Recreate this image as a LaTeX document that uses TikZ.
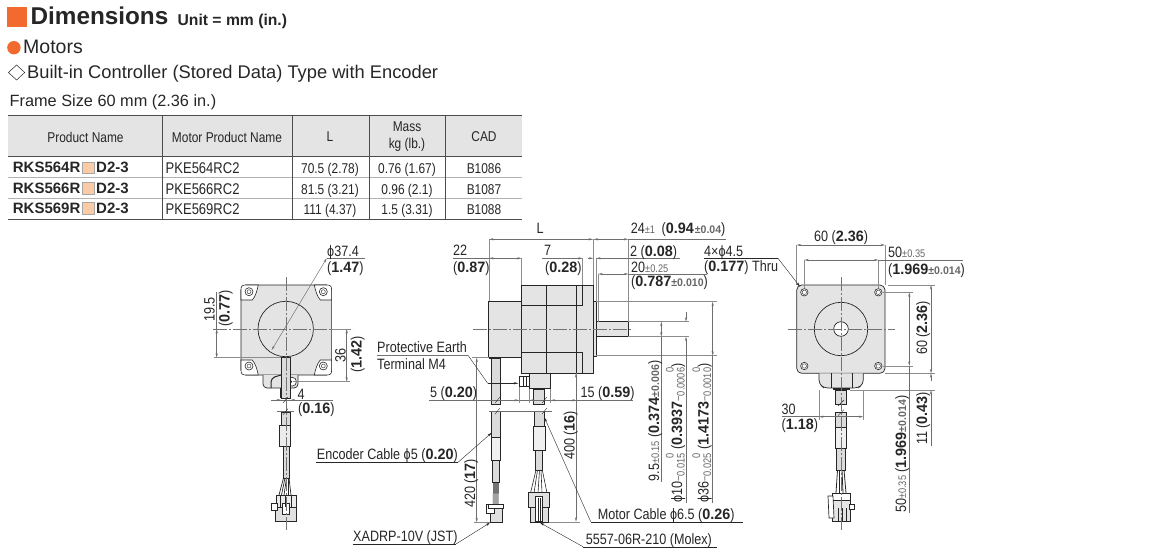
\documentclass[tikz,border=0pt]{standalone}
\usepackage{fontspec}
\usetikzlibrary{arrows.meta,shapes.geometric}
\setmainfont{Liberation Sans}
\newfontfamily\dimfont[FakeStretch=0.84]{Liberation Sans}
\newfontfamily\dimbold[FakeStretch=0.96]{Liberation Sans Bold}
\newfontfamily\rowbold{Liberation Sans Bold}
\definecolor{orangemark}{HTML}{F26A2E}
\definecolor{peach}{HTML}{FBCBA8}
\definecolor{bodygray}{HTML}{E4E4E4}
\definecolor{dimcol}{HTML}{6E6E6E}
\definecolor{tolgray}{HTML}{666666}
\definecolor{inkcol}{HTML}{262626}
\newcommand{\bd}[1]{{\dimbold #1}}
\newcommand{\tol}[1]{{\fontsize{11}{11}\selectfont\color{tolgray}#1}}
\newcommand{\tolb}[1]{{\fontsize{11}{11}\selectfont\color{tolgray}\dimbold #1}}
\newcommand{\tolpair}[1]{\raisebox{-2.5pt}{\fontsize{11}{9}\selectfont\color{tolgray}\shortstack[r]{0\\#1}}}
\tikzset{
	>={Stealth[length=4.5pt,width=2.2pt]},
	txt/.style={anchor=base west,inner sep=0pt,text=inkcol,font=\dimfont\fontsize{15}{15}\selectfont},
	vtxt/.style={txt,rotate=90},
	cell/.style={anchor=center,inner sep=0pt,text=inkcol,font=\dimfont\fontsize{14.2}{17}\selectfont,align=center},
	rowcell/.style={anchor=base,inner sep=0pt,text=inkcol,font=\dimfont\fontsize{14.2}{15}\selectfont},
	rowname/.style={anchor=base west,inner sep=0pt,text=inkcol,font=\rowbold\fontsize{15}{15}\selectfont},
	dimline/.style={draw=dimcol,line width=.45pt},
	extline/.style={draw=black!45,line width=.5pt},
	center line/.style={draw=black!55,line width=.4pt,dash pattern=on 14pt off 2pt on 2pt off 2pt},
	part/.style={draw=inkcol,fill=bodygray,line width=.7pt},
	cablepart/.style={draw=inkcol,fill=black!14,line width=.5pt},
	leader/.style={draw=inkcol,line width=.4pt}
}
\begin{document}
\begin{tikzpicture}[x=1pt,y=-1pt]
	\useasboundingbox (0,0) rectangle (1150,556);
	% heading
	\fill[orangemark] (7,7) rectangle (26.7,27);
	\node (dimtitle) [anchor=base west,inner sep=0pt,text=inkcol,font=\bfseries\fontsize{24.3}{24}\selectfont] at (30.4,25) {Dimensions};
	\node (unit) [anchor=base west,inner sep=0pt,text=inkcol,font=\bfseries\fontsize{15.7}{16}\selectfont] at (177.4,26) {Unit = mm (in.)};
	\fill[orangemark] (13.9,47.7) circle (6.7);
	\node (motors) [anchor=base west,inner sep=0pt,text=inkcol,font=\fontsize{19.5}{19}\selectfont] at (23,53.5) {Motors};
	\draw[inkcol,line width=.5pt] (8.4,72.5) -- (16.6,65) -- (24.7,72.5) -- (16.6,80) -- cycle;
	\node (typeline) [anchor=base west,inner sep=0pt,text=inkcol,font=\fontsize{18.3}{18}\selectfont] at (27,78.5) {Built-in Controller (Stored Data) Type with Encoder};
	\node (frame) [anchor=base west,inner sep=0pt,text=inkcol,font=\fontsize{16.3}{16}\selectfont] at (9.5,106.5) {Frame Size 60 mm (2.36 in.)};
	% table
	\fill[bodygray] (8.4,116) rectangle (522,157);
	\draw[black!30,line width=.6pt] (8.4,177.7) -- (522,177.7) (8.4,198) -- (522,198);
	\draw[black!70,line width=1pt] (8.4,116) -- (522,116) (8.4,157) -- (522,157) (8.4,219) -- (522,219);
	\foreach \colx in {162,292,369,445}
		\draw[black!70,line width=.5pt] (\colx,116) -- (\colx,219);
	\node (hproduct) [cell] at (85.5,137) {Product Name};
	\node (hmotor) [cell] at (227,137) {Motor Product Name};
	\node (hl) [cell] at (330,137) {L};
	\node (hmass) [cell] at (407,137) {Mass\\kg (lb.)};
	\node (hcad) [cell] at (484,137) {CAD};
	\foreach \rowy/\kid/\ltxt/\masstxt/\cadtxt in {173.5/4/70.5 (2.78)/0.76 (1.67)/B1086,194/6/81.5 (3.21)/0.96 (2.1)/B1087,214/9/111 (4.37)/1.5 (3.31)/B1088} {
		\node (rks\kid) [rowname] at (12.7,\rowy-.8) {RKS56\kid R};
		\node (box\kid) [draw=black!35,fill=peach,inner sep=0pt,minimum width=12pt,minimum height=11.5pt] at (87.8,\rowy-6) {};
		\node (dtwo\kid) [rowname] at (96,\rowy-.8) {D2-3};
		\node (pke\kid) [rowcell,anchor=base west,font=\dimfont\fontsize{15.5}{15}\selectfont] at (165.5,\rowy) {PKE56\kid RC2};
		\node (len\kid) [rowcell] at (330,\rowy) {\ltxt};
		\node (mass\kid) [rowcell] at (407,\rowy) {\masstxt};
		\node (cad\kid) [rowcell] at (484,\rowy) {\cadtxt};
	}
	% left view
	\draw[part,rounded corners=5pt] (241,285) rectangle (331.6,375);
	\foreach \sx/\sy in {1/1,1/-1,-1/1,-1/-1} {
		\begin{scope}[shift={(286.3,330)},xscale=\sx,yscale=\sy]
			\draw[fill=white,draw=inkcol,line width=.6pt] (45.3,30) -- (34,30) .. controls (31,33) and (29,40) .. (28,45) -- (40.3,45) .. controls (44,45) and (45.3,44) .. (45.3,40.3) -- cycle;
		\end{scope}
	}
	\foreach \hx in {249,323.3}
		\foreach \hy in {291.7,366} {
			\draw[inkcol,fill=white,line width=.6pt] (\hx,\hy) circle (4);
			\draw[inkcol,line width=.4pt] (\hx,\hy) circle (2);
		}
	\draw[inkcol,line width=.7pt] (285.7,329) circle (27.7);
	\draw[part,rounded corners=4pt] (263,375) -- (263,388) -- (298,388) -- (298,375);
	\draw[inkcol,line width=1pt,rounded corners=4pt] (271,388) -- (271,378) -- (281,375);
	\draw[inkcol,fill=white,line width=.6pt] (292,381.7) circle (4.5);
	\fill[inkcol] (291,381.7) circle (1.2);
	\draw[cablepart] (281,357) rectangle (290.7,398);
	\draw[inkcol,line width=1.2pt] (281,388) -- (281,398) (290.7,388) -- (290.7,398);
	\draw[cablepart] (281,412) rectangle (290.7,425);
	\draw[cablepart,fill=black!8] (279,425) rectangle (290.7,446);
	\draw[cablepart] (283,446) rectangle (289.5,478);
	\foreach \wa/\wb in {283.5/279,285/281.5,286.5/284,288/288,289/291}
		\draw[inkcol,line width=.7pt] (\wa,478) -- (\wb,495);
	\draw[part,fill=black!8] (276,495) rectangle (296,508);
	\draw[part,fill=black!12] (275,507) rectangle (296,521);
	\draw[part,fill=white] (271,503) rectangle (277,510);
	\draw[part,fill=white] (282,503) rectangle (289,514);
	\foreach \bx in {280,285,291}
		\draw[inkcol,line width=.5pt] (\bx,496) -- (\bx,507);
	\draw[center line] (285.7,277) -- (285.7,530);
	\draw[center line] (213,329) -- (353,329);
	\draw[dimline,<->] (271.7,350) -- (326.7,258.3);
	\draw[dimline] (326.7,258.3) -- (365,258.3);
	\node (dia1) [txt] at (327,256.5) {ϕ37.4};
	\node (dia1in) [txt] at (327,272) {(\bd{1.47})};
	\draw[extline] (214,357.7) -- (281,357.7);
	\draw[dimline,<->] (216.7,329) -- (216.7,357.7);
	\draw[dimline] (216.7,329) -- (216.7,292);
	\node (h195) [vtxt] at (214.5,322) {19.5};
	\node (h195in) [vtxt] at (229.5,327) {(\bd{0.77})};
	\draw[extline] (331,329) -- (350,329) (293,381.7) -- (350,381.7);
	\draw[dimline,<->] (346.7,329) -- (346.7,381.7);
	\node (h36) [vtxt] at (345.5,362.5) {36};
	\node (h36in) [vtxt] at (361.5,373) {(\bd{1.42})};
	\draw[dimline] (271,400) -- (333,400) (277,411.7) -- (294,411.7);
	\foreach \by in {400,411.7}
		\draw[inkcol,line width=.4pt] (283,\by+3) -- (288,\by-3);
	\draw[dimline,<-] (281,400) -- (272,400);
	\draw[dimline,<-] (290.7,400) -- (300,400);
	\node (w4) [txt] at (297.5,399) {4};
	\node (w4in) [txt] at (298,413.5) {(\bd{0.16})};
	% side view
	\draw[part] (488.3,301) rectangle (521.7,357.7);
	\draw[part] (521.7,285) rectangle (593.3,373.3);
	\draw[inkcol,line width=.7pt] (546.7,285) -- (546.7,373.3) (576.7,285) -- (576.7,373.3);
	\draw[inkcol,line width=.7pt] (582.7,285) -- (582.7,305.7) -- (521.7,305.7);
	\draw[inkcol,line width=.7pt] (582.7,373.3) -- (582.7,352.3) -- (521.7,352.3);
	\draw[part] (593.3,301.7) rectangle (596,356.7);
	\draw[part] (596,321.7) rectangle (628.3,336.7);
	\draw[inkcol,line width=1.2pt] (596,321.7) -- (628.3,321.7);
	\draw[part] (529.3,373.3) rectangle (550.7,388.3);
	\draw[inkcol,line width=1.2pt] (529.8,373.3) -- (529.8,388.3);
	\draw[inkcol,fill=white,line width=.6pt] (519.5,376.7) rectangle (529.3,386.7);
	\draw[inkcol,line width=.6pt] (523,376.7) -- (523,386.7) (526,376.7) -- (526,386.7);
	\draw[inkcol,line width=1.6pt] (533,388.8) -- (545,388.8);
	\draw[cablepart] (533.5,389) rectangle (544,404);
	\draw[inkcol,line width=1.6pt] (489,358) -- (501,358);
	\draw[cablepart] (491.7,358) rectangle (500,404);
	\draw[cablepart] (491.7,411) rectangle (500,437);
	\draw[cablepart,fill=black!6] (491,437) rectangle (500.7,460);
	\draw[cablepart] (492.7,460) rectangle (499.3,482);
	\foreach \wx in {493.5,494.5,495.5,496.5,497.5,498.5}
		\draw[inkcol,line width=.5pt] (\wx,482) -- (\wx-.5,504);
	\draw[part,fill=black!12] (490,508) rectangle (502.7,522.7);
	\draw[part,fill=white] (486.7,504) rectangle (494,513);
	\draw[part,fill=white] (488,504) rectangle (503.3,508.3);
	\draw[cablepart] (534,411) rectangle (544,426);
	\draw[cablepart,fill=black!6] (533.3,426) rectangle (545,450);
	\draw[cablepart] (535.5,450) rectangle (542.7,470);
	\foreach \wa/\wb in {536/530.5,537.5/534,539.5/538,541/542,542.3/547}
		\draw[inkcol,line width=.6pt] (\wa,470) -- (\wb,493);
	\draw[part,fill=black!12] (528.7,492.7) rectangle (549.3,507);
	\draw[part,fill=black!12] (530,507) rectangle (548,522.7);
	\draw[part,fill=white] (535.7,496.7) rectangle (542.3,521.7);
	\draw[inkcol,line width=.8pt] (538,498) -- (538,521) (540,498) -- (540,521);
	\draw[center line] (473,329.3) -- (633,329.3);
	% side view, top dimensions
	\draw[extline,line width=.8pt] (489,239.3) -- (489,301);
	\draw[extline] (521.7,258.3) -- (521.7,285) (582.7,258.3) -- (582.7,285) (593.3,239.3) -- (593.3,285) (596,258.3) -- (596,301) (598.3,274) -- (598.3,321.7) (628.3,239.3) -- (628.3,321.7);
	\draw[dimline,<->] (489,239.3) -- (593.1,239.3);
	\draw[dimline,<->] (593.5,239.3) -- (628.3,239.3);
	\draw[dimline] (628.3,239.3) -- (726,239.3);
	\node (lenl) [txt] at (536.5,233) {L};
	\node (len24) [txt] at (630.7,233) {24\tol{ ±1}\hspace{3pt} (\bd{0.94}\hspace{1pt}\tolb{±0.04})};
	\draw[dimline] (452.7,258.3) -- (489,258.3);
	\draw[dimline,<->] (489,258.3) -- (521.7,258.3);
	\draw[dimline,->] (541.7,258.3) -- (582.7,258.3);
	\draw[dimline,->] (604,258.3) -- (596,258.3);
	\draw[dimline,<-] (593.3,258.3) -- (588,258.3);
	\draw[dimline] (604,258.3) -- (680,258.3);
	\node (len22) [txt] at (453,255) {22};
	\node (len22in) [txt] at (453,272) {(\bd{0.87})};
	\node (len7) [txt] at (544,255) {7};
	\node (len7in) [txt] at (545,272) {(\bd{0.28})};
	\node (len2) [txt] at (630,256.5) {2 (\bd{0.08})};
	\draw[dimline,<->] (598.3,274) -- (628.3,274);
	\draw[dimline] (628.3,274) -- (706.7,274);
	\node (len20) [txt] at (631,272) {20\tol{ ±0.25}};
	\node (len20in) [txt] at (631,286.7) {(\bd{0.787}\tolb{±0.010})};
	% side view, shaft dimensions
	\draw[extline] (596,301.7) -- (716.7,301.7) (596,355.7) -- (716.7,355.7) (628.3,321.7) -- (689.3,321.7) (628.3,336.7) -- (689.3,336.7);
	\draw[dimline,<->] (712.7,301.7) -- (712.7,355.7);
	\draw[dimline] (712.7,355.7) -- (712.7,503);
	\draw[dimline,->] (686,311.7) -- (686,321.7);
	\draw[dimline,<-] (686,336.7) -- (686,503);
	\draw[dimline,<->] (661.3,321.7) -- (661.3,336.7);
	\draw[dimline] (661.3,336.7) -- (661.3,481.7);
	\node (phi95) [vtxt] at (659,481.7) {9.5\tol{±0.15} (\bd{0.374}\tolb{±0.006})};
	\node (phi10) [vtxt] at (682,503) {ϕ10\tol{−}\tolpair{0.015} (\bd{0.3937}\tol{−}\tolpair{0.0006})};
	\node (phi36) [vtxt] at (708.5,503) {ϕ36\tol{−}\tolpair{0.025} (\bd{1.4173}\tol{−}\tolpair{0.0010})};
	% side view, cable dimensions
	\draw[dimline] (429,400.3) -- (633,400.3) (489,411) -- (552,411);
	\foreach \bx in {491,538}
		\foreach \by in {400,411}
			\draw[inkcol,line width=.4pt] (\bx+4,\by+3) -- (\bx+9,\by-3);
	\draw[extline] (519,387) -- (519,403) (529.3,389) -- (529.3,403) (550.7,389) -- (550.7,403) (576.7,373.3) -- (576.7,403);
	\draw[dimline,->] (511,400.3) -- (519,400.3);
	\draw[dimline,<-] (529.3,400.3) -- (537,400.3);
	\draw[dimline,<-] (550.7,400.3) -- (560,400.3);
	\draw[dimline,<-] (576.7,400.3) -- (568,400.3);
	\node (len5) [txt] at (430,397.5) {5 (\bd{0.20})};
	\node (len15) [txt] at (580.5,397.5) {15 (\bd{0.59})};
	\draw[extline] (472,357.7) -- (489,357.7) (474,522.3) -- (490,522.3) (549,522.3) -- (580,522.3);
	\draw[dimline,<->] (476.7,357.7) -- (476.7,522.3);
	\draw[dimline,<->] (576,373.3) -- (576,521.7);
	\node (len420) [vtxt] at (475,508) {420 (\bd{17})};
	\node (len400) [vtxt] at (574.5,460) {400 (\bd{16})};
	% labels with leaders
	\node (earth) [txt] at (377,352.7) {Protective Earth};
	\node (earth2) [txt] at (377,369) {Terminal M4};
	\coordinate (earthtip) at (518.3,383.3);
	\draw[leader] (377,355.3) -- (468,355.3) -- (487.7,383.3);
	\draw[leader,->] (487.7,383.3) -- (earthtip);
	\node (enccable) [txt] at (316.7,459.7) {Encoder Cable ϕ5 (\bd{0.20})};
	\coordinate (enctip) at (491.7,432.7);
	\draw[leader] (316,462.3) -- (458,462.3);
	\draw[leader,->] (458,462.3) -- (enctip);
	\node (moncable) [txt] at (597.7,519) {Motor Cable ϕ6.5 (\bd{0.26})};
	\coordinate (moncabletip) at (544.3,417.3);
	\draw[leader] (743,521.7) -- (590.7,521.7);
	\draw[leader,->] (590.7,521.7) -- (moncabletip);
	\node (xadrp) [txt] at (353,541.5) {XADRP-10V (JST)};
	\coordinate (xadrptip) at (490,522.7);
	\draw[leader] (353,544) -- (456,544);
	\draw[leader,->] (456,544) -- (xadrptip);
	\node (molex) [txt] at (585.7,544) {5557-06R-210 (Molex)};
	\coordinate (molextip) at (540,522.7);
	\draw[leader] (716.7,546.7) -- (583,546.7);
	\draw[leader,->] (583,546.7) -- (molextip);
	% right view
	\draw[part,rounded corners=5pt] (796.7,285) rectangle (885,373.3);
	\foreach \hx in {804.3,878.3}
		\foreach \hy in {292.3,366} {
			\draw[inkcol,fill=white,line width=.6pt] (\hx,\hy) circle (3.7);
			\draw[inkcol,line width=.4pt] (\hx,\hy) circle (2.2);
		}
	\draw[inkcol,line width=.7pt] (841,329) circle (26.7);
	\draw[inkcol,fill=white,line width=.7pt] (841,329) circle (7.3);
	\draw[part,rounded corners=4pt] (819,373.3) -- (819,384) -- (824,388) -- (858,388) -- (863.3,384) -- (863.3,373.3);
	\draw[inkcol,line width=.5pt] (831,373.3) -- (831,388) (852,373.3) -- (852,388);
	\draw[inkcol,line width=1.6pt] (832.5,389) -- (850,389);
	\draw[cablepart] (835.7,390) rectangle (846,404);
	\draw[cablepart] (835.7,412) rectangle (846,427);
	\draw[cablepart,fill=black!6] (835,427) rectangle (846.7,448);
	\draw[cablepart] (836.7,448) rectangle (845,470);
	\foreach \wa/\wb in {837.5/836,839/839,842/843,844/846}
		\draw[inkcol,line width=.8pt] (\wa,470) -- (\wb,493);
	\draw[part,fill=white] (832.3,493.3) rectangle (850,500);
	\draw[part,fill=black!10] (832.3,500) rectangle (850,521.7);
	\foreach \bx in {838,842,846}
		\draw[inkcol,line width=.5pt] (\bx,508) -- (\bx,521.7);
	\draw[part,fill=white] (828,496) -- (833,496) -- (834,518) -- (829,518) -- cycle;
	\draw[part,fill=white] (849.5,504) rectangle (854,509);
	\foreach \by in {403,412.7}
		\draw[inkcol,line width=.4pt] (838,\by+3) -- (844,\by-3);
	\draw[center line] (788,329) -- (895,329);
	\draw[center line] (841,277) -- (841,530);
	% right view, dimensions
	\draw[extline] (796.7,245) -- (796.7,285) (885,245) -- (885,285) (804.3,260) -- (804.3,288) (878.3,260) -- (878.3,288);
	\draw[dimline,<->] (796.7,245) -- (885,245);
	\draw[dimline,<->] (804.3,260) -- (878.3,260);
	\draw[dimline] (878.3,260) -- (963,260);
	\node (top60) [txt] at (814,241) {60 (\bd{2.36})};
	\node (top50) [txt] at (888,257) {50\tol{ ±0.35}};
	\node (top50in) [txt] at (888,274) {(\bd{1.969}\tolb{±0.014})};
	\node (holes) [txt] at (704,256.5) {4×ϕ4.5};
	\node (holesin) [txt] at (704,271) {(\bd{0.177}) Thru};
	\coordinate (holetip) at (800,286.7);
	\draw[leader] (704,258.3) -- (778,258.3);
	\draw[leader,->] (778,258.3) -- (holetip);
	\draw[extline] (888,285) -- (935,285) (885,373.3) -- (935,373.3) (883,292.3) -- (913.3,292.3) (883,366) -- (913.3,366) (850,390) -- (935,390);
	\draw[dimline,<->] (909.3,292.3) -- (909.3,366);
	\draw[dimline] (909.3,366) -- (909.3,513);
	\draw[dimline,<->] (931,285) -- (931,373.3);
	\draw[dimline,<-] (931,373.3) -- (931,381);
	\draw[dimline,<-] (931,390) -- (931,446);
	\node (side60) [vtxt] at (927,355) {60 (\bd{2.36})};
	\node (side50) [vtxt] at (906,513) {50\tol{±0.35} (\bd{1.969}\tolb{±0.014})};
	\node (side11) [vtxt] at (927,445) {11 (\bd{0.43})};
	\draw[extline] (819,390) -- (819,420) (863.3,390) -- (863.3,420);
	\draw[dimline] (781.7,416.7) -- (819,416.7);
	\draw[dimline,<->] (819,416.7) -- (863.3,416.7);
	\node (w30) [txt] at (781.5,414.5) {30};
	\node (w30in) [txt] at (781.5,429.5) {(\bd{1.18})};
\end{tikzpicture}
\end{document}
